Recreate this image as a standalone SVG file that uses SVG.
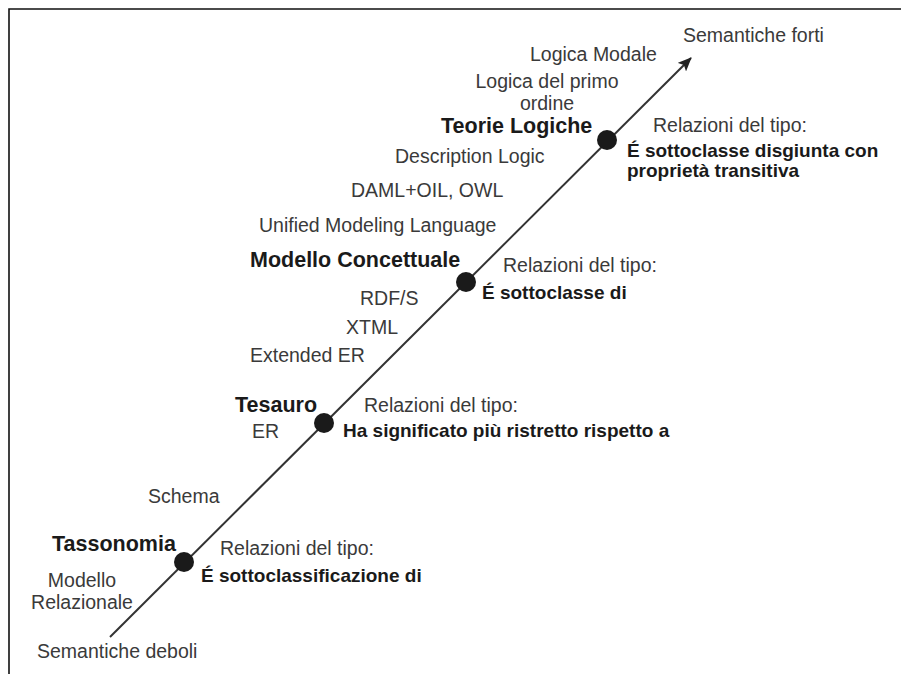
<svg xmlns="http://www.w3.org/2000/svg" width="901" height="674" viewBox="0 0 901 674">
<style>
text{font-family:"Liberation Sans",Arial,sans-serif}
.n{font-size:19.5px;fill:#3a3a3a}
.t{font-size:21.5px;font-weight:bold;fill:#1a1a1a}
.b{font-size:19px;font-weight:bold;fill:#1a1a1a}
.dot{fill:#1a1a1a}
.axis{stroke:#333;stroke-width:2;fill:none}
</style>
<defs>
<marker id="ah" viewBox="0 0 14 12" refX="13" refY="6" markerWidth="14" markerHeight="12" orient="auto" markerUnits="userSpaceOnUse">
<path d="M0,0 L14,6 L0,12 L3,6 z" fill="#222"/>
</marker>
</defs>
<rect width="901" height="674" fill="#fff"/>
<path d="M9,674 L9,9 L901,9" fill="none" stroke="#111" stroke-width="1.6"/>
<g id="connectors">
<line class="axis" x1="110" y1="637" x2="691" y2="58" marker-end="url(#ah)"/>
</g>
<g id="ends">
<text class="n" x="683" y="42">Semantiche forti</text>
<text class="n" x="37" y="658">Semantiche deboli</text>
</g>
<g id="teorie-logiche">
<circle class="dot" cx="607" cy="140" r="10"/>
<text class="t" x="441" y="133">Teorie Logiche</text>
<text class="n" x="653" y="132">Relazioni del tipo:</text>
<text class="b" x="627" y="157">É sottoclasse disgiunta con</text>
<text class="b" x="627" y="177">proprietà transitiva</text>
</g>
<g id="modello-concettuale">
<circle class="dot" cx="466" cy="282" r="10"/>
<text class="t" x="250" y="267">Modello Concettuale</text>
<text class="n" x="503" y="272">Relazioni del tipo:</text>
<text class="b" x="482" y="299">É sottoclasse di</text>
</g>
<g id="tesauro">
<circle class="dot" cx="324" cy="423" r="10"/>
<text class="t" x="235" y="412">Tesauro</text>
<text class="n" x="364" y="412">Relazioni del tipo:</text>
<text class="b" x="343" y="437">Ha significato più ristretto rispetto a</text>
</g>
<g id="tassonomia">
<circle class="dot" cx="184" cy="562" r="10"/>
<text class="t" x="52" y="551">Tassonomia</text>
<text class="n" x="220" y="555">Relazioni del tipo:</text>
<text class="b" x="201" y="582">É sottoclassificazione di</text>
</g>
<g id="examples">
<text class="n" x="530" y="61">Logica Modale</text>
<text class="n" x="547" y="88" text-anchor="middle">Logica del primo</text>
<text class="n" x="547" y="110" text-anchor="middle">ordine</text>
<text class="n" x="395" y="163">Description Logic</text>
<text class="n" x="351" y="197">DAML+OIL, OWL</text>
<text class="n" x="259" y="232">Unified Modeling Language</text>
<text class="n" x="360" y="305">RDF/S</text>
<text class="n" x="346" y="334">XTML</text>
<text class="n" x="250" y="362">Extended ER</text>
<text class="n" x="252" y="438">ER</text>
<text class="n" x="148" y="503">Schema</text>
<text class="n" x="82" y="587" text-anchor="middle">Modello</text>
<text class="n" x="82" y="609" text-anchor="middle">Relazionale</text>
</g>
</svg>
